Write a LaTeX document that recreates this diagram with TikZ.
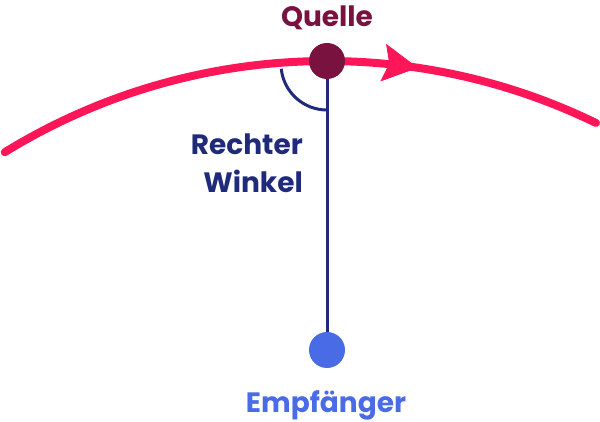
\documentclass[tikz,border=0pt]{standalone}
\usepackage{fontspec}
\setmainfont{Poppins}
\usetikzlibrary{arrows.meta}
\definecolor{curvered}{HTML}{FF1658}
\definecolor{quellec}{HTML}{7A1240}
\definecolor{navy}{HTML}{1F2A7A}
\definecolor{empblue}{HTML}{4A6BE6}
\tikzset{
  dot/.style={circle,minimum size=36pt,inner sep=0pt},
  lbl/.style={font=\fontsize{28}{33}\selectfont\bfseries,anchor=base,inner sep=0pt},
}
\begin{document}
\begin{tikzpicture}[x=1pt,y=1pt]
\useasboundingbox (0,0) rectangle (600,422);
\coordinate (c) at (327,-254);
% curve
\draw[curvered,line width=8pt,line cap=round] (c) ++(121.6:615) arc[start angle=121.6,end angle=64.06,radius=615];
\draw[curvered,line width=1pt,-{Stealth[length=35pt,width=38pt,inset=6pt]}] (c) ++(88:615) arc[start angle=88,end angle=81.5,radius=615];
% nodes
\node[dot,fill=empblue] (e) at (327,72) {};
\node[dot] (qpos) at (327,361) {};
\draw[navy,line width=3pt] (qpos.center) -- (e);
\draw[navy,line width=3pt] (327,358) ++(186:46) arc[start angle=186,end angle=270,radius=46];
\node[dot,fill=quellec] (q) at (327,361) {};
% labels
\node[lbl,text=quellec] (lq) at (327,395) {Quelle};
\node[lbl,text=navy,anchor=base east] (lr) at (303,267) {Rechter};
\node[lbl,text=navy,anchor=base east] (lw) at (303,229) {Winkel};
\node[lbl,text=empblue] (le) at (326,9) {Empfänger};
\end{tikzpicture}
\end{document}
